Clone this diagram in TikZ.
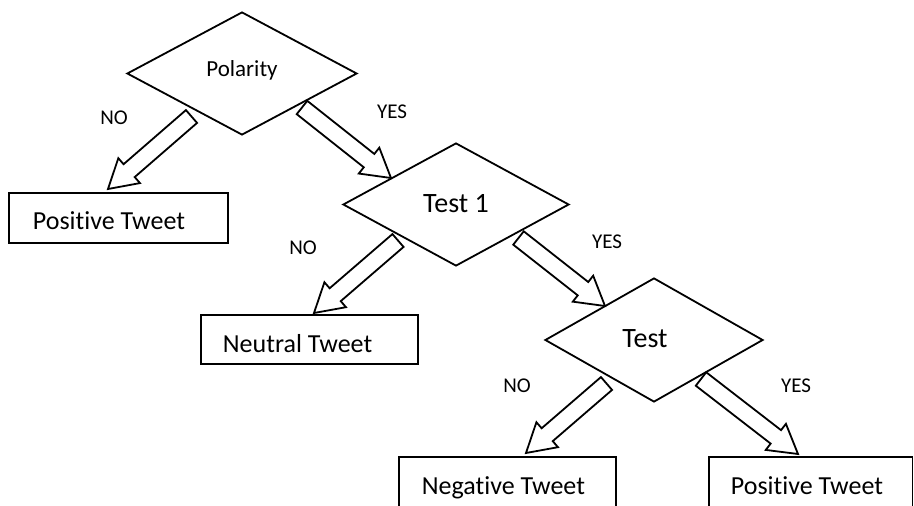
\documentclass[tikz,border=0pt]{standalone}
\usepackage{fontspec}
\setmainfont{Carlito}[Ligatures={NoCommon}]
\usetikzlibrary{calc,shapes.geometric}
\newcommand\blockarrow[2]{%
  \path ($(#2)!28pt!(#1)$) coordinate (hh);
  \draw[arrowline]
    ($(#1)!8.5pt!90:(#2)$) -- ($(hh)!8.5pt!90:(#2)$) -- ($(hh)!16.5pt!90:(#2)$) --
    (#2) -- ($(hh)!16.5pt!-90:(#2)$) -- ($(hh)!8.5pt!-90:(#2)$) --
    ($(#1)!8.5pt!-90:(#2)$) -- cycle;}
\begin{document}
\begin{tikzpicture}[x=1pt,y=-1pt,
  line width=1.8pt, line join=miter,
  dia/.style={draw, diamond, inner sep=0pt, line width=1.8pt},
  box/.style={draw, line width=1.8pt},
  arrowline/.style={draw, fill=white, line width=1.8pt},
  lbl/.style={anchor=base, inner sep=0pt, font=\fontsize{21}{24}\selectfont},
  boxtxt/.style={anchor=base west, inner sep=0pt, font=\fontsize{26}{30}\selectfont}]
\useasboundingbox (0,0) rectangle (914,506);
\clip (0,0) rectangle (914,506);
\fill[white] (0,0) rectangle (914,506);
% diamonds
\node[dia, minimum width=230pt, minimum height=123pt] (pol) at (242,73.5) {};
\node[dia, minimum width=226pt, minimum height=123pt] (t1) at (456,204.5) {};
\node[dia, minimum width=218pt, minimum height=124pt] (t2) at (654,340) {};
\node[anchor=base, inner sep=0pt, font=\fontsize{23}{26}\selectfont] (polt) at (242,76) {Polarity};
\node[anchor=base, inner sep=0pt, font=\fontsize{28}{32}\selectfont] (t1t) at (456,212) {Test 1};
\node[anchor=base, inner sep=0pt, font=\fontsize{28}{32}\selectfont] (t2t) at (645,347) {Test};
% boxes
\draw[box] (9,193) rectangle (228,243);
\node[boxtxt] (pos1) at (32,229) {Positive Tweet};
\draw[box] (201,315) rectangle (418,364);
\node[boxtxt] (neu) at (222,352) {Neutral Tweet};
\draw[box] (399,520) -- (399,457) -- (616,457) -- (616,520);
\node[boxtxt] (neg) at (421,494) {Negative Tweet};
\draw[box] (709,520) -- (709,457) -- (912.5,457) -- (912.5,520);
\node[boxtxt] (pos2) at (730,494) {Positive Tweet};
% labels
\node[lbl] (n1) at (114,124) {NO};
\node[lbl] (y1) at (392,118) {YES};
\node[lbl] (n2) at (303,254) {NO};
\node[lbl] (y2) at (607,248) {YES};
\node[lbl] (n3) at (517,392) {NO};
\node[lbl] (y3) at (796,392) {YES};
% arrow ends
\coordinate (a1s) at (191.5,116.5); \coordinate (a1e) at (108,189);
\coordinate (a2s) at (302,107.5);   \coordinate (a2e) at (391,178);
\coordinate (a3s) at (398,240.5);   \coordinate (a3e) at (314,313);
\coordinate (a4s) at (518.5,238);   \coordinate (a4e) at (605,306);
\coordinate (a5s) at (606.5,383.5); \coordinate (a5e) at (526,453);
\coordinate (a6s) at (701,379);     \coordinate (a6e) at (798,454);
\blockarrow{a1s}{a1e}
\blockarrow{a2s}{a2e}
\blockarrow{a3s}{a3e}
\blockarrow{a4s}{a4e}
\blockarrow{a5s}{a5e}
\blockarrow{a6s}{a6e}
\end{tikzpicture}
\end{document}
